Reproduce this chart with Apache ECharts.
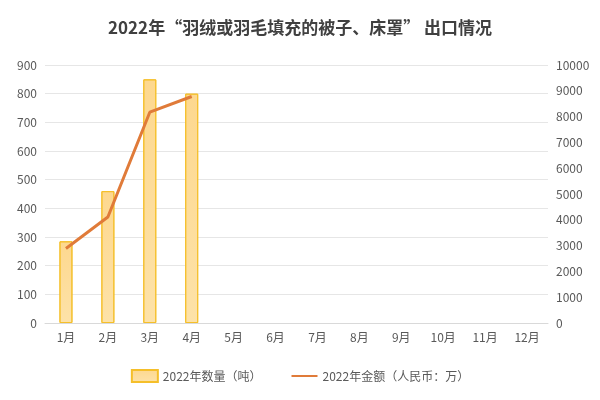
<!DOCTYPE html>
<html><head><meta charset="utf-8">
<script src="https://cdn.jsdelivr.net/npm/echarts@6/dist/echarts.min.js"></script>
<style>html,body{margin:0;background:#fff}#c{width:600px;height:400px}</style>
</head><body><div id="c"></div>
<script>
var months = ['1月','2月','3月','4月','5月','6月','7月','8月','9月','10月','11月','12月'];
var qty = [285, 460, 850, 800];          // 吨
var amount = [2890, 4110, 8170, 8780];  // 万元
var leftTicks = [0, 900, 100];
var rightTicks = [0, 10000, 1000];

var chart = echarts.init(document.getElementById('c'));
var font = '"Noto Sans CJK SC", sans-serif';
chart.setOption({
  textStyle: {fontFamily: font},
  title: {text: '2022年“羽绒或羽毛填充的被子、床罩” 出口情况', left: 'center', top: 14,
    textStyle: {fontSize: 17, fontWeight: 'bold', color: '#404040', fontFamily: font}},
  grid: {left: 45, right: 52, top: 65, bottom: 77},
  legend: {bottom: 12, itemGap: 30, itemWidth: 26, itemHeight: 12,
    textStyle: {color: '#595959', fontSize: 12},
    data: [{name: '2022年数量（吨）', icon: 'rect'},
           {name: '2022年金额（人民币：万）', icon: 'path://M0,5L26,5L26,7L0,7Z'}]},
  xAxis: {type: 'category', data: months,
    axisLine: {lineStyle: {color: '#d9d9d9'}}, axisTick: {show: false},
    axisLabel: {color: '#595959', fontSize: 12}},
  yAxis: [
    {type: 'value', min: leftTicks[0], max: leftTicks[1], interval: leftTicks[2],
     axisLabel: {color: '#595959', fontSize: 12}, splitLine: {lineStyle: {color: '#e6e6e6'}}},
    {type: 'value', min: rightTicks[0], max: rightTicks[1], interval: rightTicks[2],
     axisLabel: {color: '#595959', fontSize: 12, formatter: function (v) { return String(v); }},
     splitLine: {show: false}}
  ],
  series: [
    {name: '2022年数量（吨）', type: 'bar', data: qty, barWidth: 13,
     itemStyle: {borderColor: '#f5bf2a', borderWidth: 1,
       color: new echarts.graphic.LinearGradient(0, 0, 0, 1,
         [{offset: 0, color: '#fdd88f'}, {offset: 1, color: '#fde2a8'}])}},
    {name: '2022年金额（人民币：万）', type: 'line', yAxisIndex: 1, data: amount,
     symbol: 'none', lineStyle: {color: '#e07b39', width: 3}, itemStyle: {color: '#e07b39'}}
  ]
});
</script></body></html>
